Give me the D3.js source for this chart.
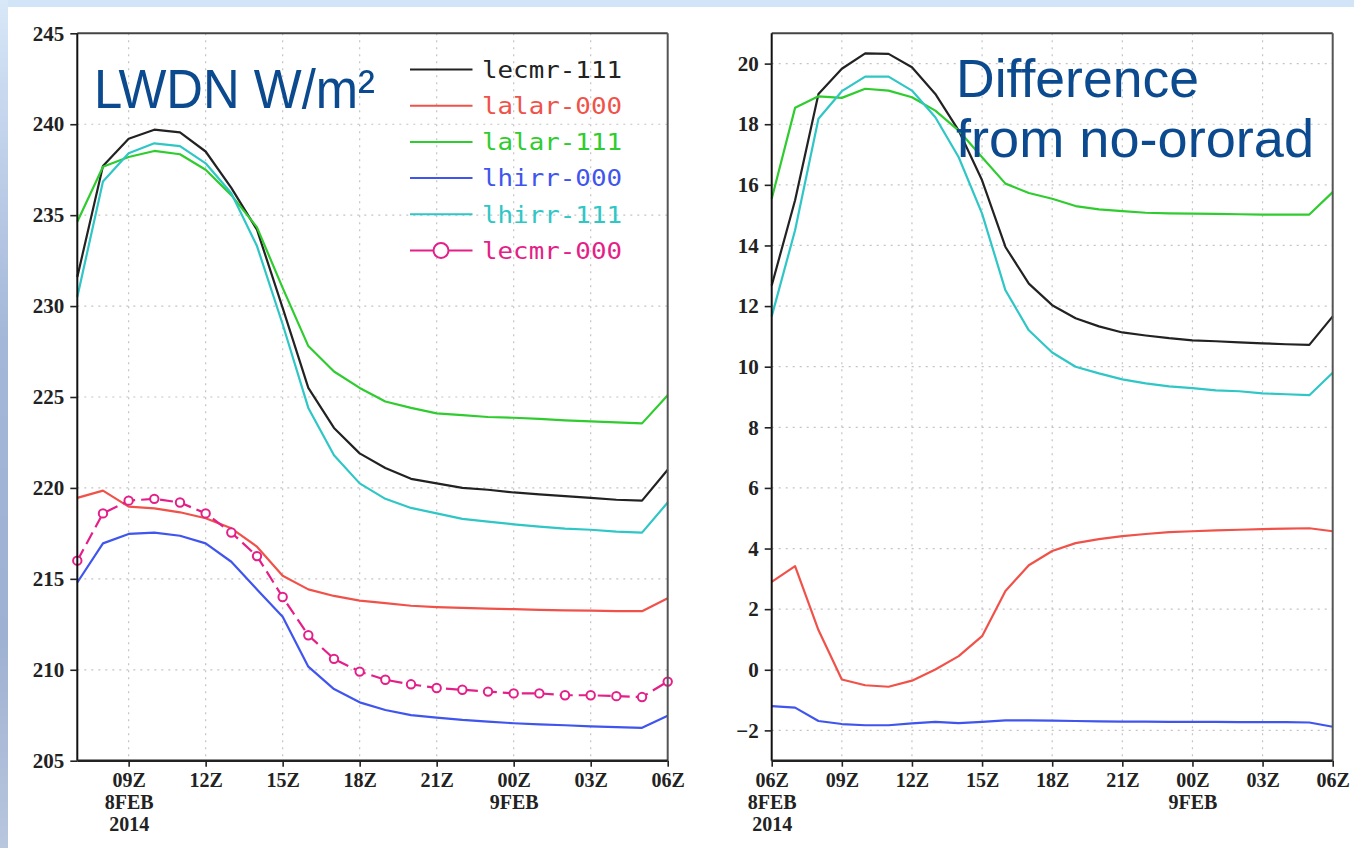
<!DOCTYPE html>
<html><head><meta charset="utf-8">
<script src="https://cdn.jsdelivr.net/npm/d3@7"></script>
<style>
html,body{margin:0;padding:0;background:#fff;}
svg{display:block;}
</style></head>
<body>
<svg id="chart" width="1354" height="848"></svg>
<script>
// ---------------- DATA ----------------
// Left panel: LWDN (W/m2), hourly 2014-02-08 07Z .. 2014-02-09 06Z (24 values)
const leftStart = "2014-02-08T07:00:00Z";
const leftEnd   = "2014-02-09T06:00:00Z";
const lecmr111 = [231.6,237.7,239.2,239.7,239.55,238.5,236.5,234.2,229.9,225.5,223.3,221.9,221.1,220.5,220.25,220.0,219.9,219.75,219.65,219.55,219.45,219.35,219.3,221.0];
const lalar000 = [219.45,219.85,218.97,218.88,218.66,218.33,217.78,216.77,215.17,214.42,214.06,213.8,213.66,213.52,213.45,213.4,213.36,213.33,213.29,213.27,213.25,213.23,213.22,213.93];
const lalar111 = [234.64,237.66,238.2,238.53,238.35,237.5,236.1,234.33,231.0,227.8,226.4,225.5,224.75,224.4,224.1,224.0,223.9,223.86,223.8,223.72,223.66,223.6,223.55,225.1];
const lhirr000 = [214.8,216.95,217.47,217.54,217.37,216.95,215.94,214.42,212.92,210.17,208.94,208.21,207.79,207.51,207.37,207.24,207.15,207.06,207.0,206.95,206.89,206.85,206.81,207.47];
const lhirr111 = [230.5,236.85,238.4,238.95,238.8,237.85,236.2,233.3,229.0,224.4,221.8,220.25,219.4,218.9,218.6,218.3,218.15,218.0,217.87,217.76,217.7,217.6,217.54,219.2];
const lecmr000 = [216.0,218.6,219.3,219.4,219.2,218.6,217.55,216.25,214.0,211.9,210.6,209.9,209.45,209.2,209.0,208.9,208.8,208.7,208.7,208.6,208.6,208.55,208.5,209.35];

// Right panel: difference from no-ororad, hourly 2014-02-08 06Z .. 2014-02-09 06Z (25 values)
const rightStart = "2014-02-08T06:00:00Z";
const rightEnd   = "2014-02-09T06:00:00Z";
const dLecmr111 = [12.68,15.49,19.0,19.83,20.34,20.32,19.88,19.0,17.79,16.15,13.95,12.74,12.03,11.6,11.33,11.13,11.03,10.94,10.87,10.84,10.8,10.77,10.74,10.72,11.66];
const dLalar000 = [2.9,3.42,1.31,-0.32,-0.51,-0.56,-0.36,0.01,0.45,1.11,2.6,3.45,3.92,4.18,4.31,4.41,4.48,4.54,4.57,4.6,4.62,4.64,4.66,4.67,4.57];
const dLalar111 = [15.54,18.54,18.92,18.87,19.17,19.11,18.89,18.45,17.79,16.91,16.04,15.73,15.54,15.3,15.19,15.13,15.08,15.06,15.05,15.04,15.03,15.02,15.02,15.02,15.76];
const dLhirr000 = [-1.2,-1.25,-1.69,-1.79,-1.83,-1.83,-1.77,-1.72,-1.76,-1.72,-1.67,-1.67,-1.68,-1.69,-1.7,-1.71,-1.71,-1.72,-1.72,-1.72,-1.73,-1.73,-1.73,-1.74,-1.88];
const dLhirr111 = [11.66,14.5,18.18,19.09,19.57,19.57,19.11,18.23,16.91,15.05,12.52,11.2,10.47,10.0,9.78,9.58,9.45,9.35,9.29,9.22,9.19,9.12,9.09,9.06,9.8];

const seriesNames  = ["lecmr-111","lalar-000","lalar-111","lhirr-000","lhirr-111","lecmr-000"];
const seriesColors = ["#222222","#f0524a","#2fcc2f","#3f55ee","#2fc6c6","#e41f88"];

const leftYTicks  = [205,210,215,220,225,230,235,240,245];
const rightYTicks = [-2,0,2,4,6,8,10,12,14,16,18,20];
const xTickTimes  = ["2014-02-08T06:00:00Z","2014-02-08T09:00:00Z","2014-02-08T12:00:00Z","2014-02-08T15:00:00Z","2014-02-08T18:00:00Z","2014-02-08T21:00:00Z","2014-02-09T00:00:00Z","2014-02-09T03:00:00Z","2014-02-09T06:00:00Z"];
const xTickLabels = ["06Z","09Z","12Z","15Z","18Z","21Z","00Z","03Z","06Z"];
const dateLabels  = [{t:"2014-02-08T09:00:00Z", lines:["8FEB","2014"], panel:"left"},
                     {t:"2014-02-09T00:00:00Z", lines:["9FEB"], panel:"left"},
                     {t:"2014-02-08T06:00:00Z", lines:["8FEB","2014"], panel:"right"},
                     {t:"2014-02-09T00:00:00Z", lines:["9FEB"], panel:"right"}];

// ---------------- DRAW ----------------
const svg = d3.select("#chart");
const W = 1354, H = 848;

// background decoration
const defs = svg.append("defs");
const lg = defs.append("linearGradient").attr("id","sideGrad").attr("x1",0).attr("y1",0).attr("x2",0).attr("y2",1);
lg.append("stop").attr("offset","0%").attr("stop-color","#d9e8f8");
lg.append("stop").attr("offset","10%").attr("stop-color","#c9daf0");
lg.append("stop").attr("offset","40%").attr("stop-color","#a4b7d8");
lg.append("stop").attr("offset","75%").attr("stop-color","#9fb1d2");
lg.append("stop").attr("offset","100%").attr("stop-color","#b8c6de");
svg.append("rect").attr("x",0).attr("y",0).attr("width",W).attr("height",H).attr("fill","#ffffff");
svg.append("rect").attr("x",0).attr("y",0).attr("width",W).attr("height",7).attr("fill","#d2e4f8");
svg.append("rect").attr("x",0).attr("y",0).attr("width",8).attr("height",H).attr("fill","url(#sideGrad)");

const parse = d3.isoParse;
const AXIS_FONT = "'Liberation Serif', 'DejaVu Serif', serif";

function panel(cfg){
  const x = d3.scaleUtc().domain([parse(cfg.start), parse(cfg.end)]).range([cfg.x0, cfg.x1]);
  const y = d3.scaleLinear().domain(cfg.ydomain).range([cfg.y0, cfg.y1]);
  const times = d3.utcHour.range(parse(cfg.start), d3.utcHour.offset(parse(cfg.end),1));
  const g = svg.append("g");

  // grid
  g.selectAll(".hg").data(cfg.gridY).join("line")
    .attr("x1",cfg.x0).attr("x2",cfg.x1).attr("y1",d=>y(d)).attr("y2",d=>y(d))
    .attr("stroke","#c4c4c4").attr("stroke-width",1.2).attr("stroke-dasharray","2,5");
  const vt = xTickTimes.map(parse).filter(t=> t>x.domain()[0] && t<x.domain()[1]);
  g.selectAll(".vg").data(vt).join("line")
    .attr("x1",d=>x(d)).attr("x2",d=>x(d)).attr("y1",cfg.y1).attr("y2",cfg.y0)
    .attr("stroke","#c4c4c4").attr("stroke-width",1.2).attr("stroke-dasharray","2,5");

  // lines
  const line = d3.line().x((d,i)=>x(times[i])).y(d=>y(d));
  cfg.series.forEach((s,k)=>{
    g.append("path").datum(s.values).attr("d",line)
      .attr("fill","none").attr("stroke",s.color).attr("stroke-width",2.2)
      .attr("stroke-linejoin","round")
      .attr("stroke-dasharray", s.marker ? "13,6" : null);
    if(s.marker){
      g.selectAll(null).data(s.values).join("circle")
        .attr("cx",(d,i)=>x(times[i])).attr("cy",d=>y(d)).attr("r",4.2)
        .attr("fill","#fff").attr("stroke",s.color).attr("stroke-width",2);
    }
  });

  // frame
  g.append("line").attr("x1",cfg.x0).attr("x2",cfg.x1).attr("y1",cfg.y1).attr("y2",cfg.y1).attr("stroke","#444").attr("stroke-width",2);
  g.append("line").attr("x1",cfg.x1).attr("x2",cfg.x1).attr("y1",cfg.y1).attr("y2",cfg.y0).attr("stroke","#555").attr("stroke-width",2);

  // y axis
  const ya = g.append("g").attr("transform",`translate(${cfg.x0},0)`)
    .call(d3.axisLeft(y).tickValues(cfg.yticks).tickSize(7).tickPadding(6).tickFormat(d3.format("d")));
  ya.select(".domain").attr("stroke","#111").attr("stroke-width",2).attr("d",`M0,${cfg.y0}V${cfg.y1}`);
  ya.selectAll(".tick line").attr("stroke","#222").attr("stroke-width",1.6);
  ya.selectAll("text").attr("font-family",AXIS_FONT).attr("font-weight","bold").attr("font-size",21).attr("fill","#222");

  // x axis (date lines added as tspans of the tick label)
  const xt = xTickTimes.map(parse).filter(t=> t>=x.domain()[0] && t<=x.domain()[1]);
  const lab = new Map(xTickTimes.map((t,i)=>[+parse(t), xTickLabels[i]]));
  const xa = g.append("g").attr("transform",`translate(0,${cfg.y0})`)
    .call(d3.axisBottom(x).tickValues(xt).tickSize(6).tickPadding(6).tickFormat(d=>lab.get(+d)));
  xa.select(".domain").attr("stroke","#222").attr("stroke-width",2.4).attr("d",`M${cfg.x0},0H${cfg.x1}`);
  xa.selectAll(".tick line").attr("stroke","#222").attr("stroke-width",1.6);
  xa.selectAll("text").attr("font-family",AXIS_FONT).attr("font-weight","bold").attr("font-size",20).attr("fill","#222");
  const dl = dateLabels.filter(d=>d.panel===cfg.name);
  xa.selectAll(".tick text").each(function(t){
    const m = dl.find(d=> +parse(d.t) === +t);
    if(!m) return;
    const txt = d3.select(this);
    const first = txt.text();
    txt.text(null);
    txt.append("tspan").attr("x",0).text(first);
    m.lines.forEach((ln,j)=>{
      txt.append("tspan").attr("x",0).attr("dy", 22.3).text(ln);
    });
  });
  return {x,y,g};
}

panel({name:"left", start:leftStart, end:leftEnd, x0:77.3, x1:667.7, y0:760.7, y1:33.3,
  ydomain:[205,245], yticks:leftYTicks, gridY:[210,215,220,225,230,235,240],
  series:[
    {values:lecmr111, color:seriesColors[0]},
    {values:lalar000, color:seriesColors[1]},
    {values:lalar111, color:seriesColors[2]},
    {values:lhirr000, color:seriesColors[3]},
    {values:lhirr111, color:seriesColors[4]},
    {values:lecmr000, color:seriesColors[5], marker:true}
  ]});

panel({name:"right", start:rightStart, end:rightEnd, x0:771.7, x1:1332.7, y0:760.7, y1:33.3,
  ydomain:[-3,21], yticks:rightYTicks, gridY:rightYTicks,
  series:[
    {values:dLecmr111, color:seriesColors[0]},
    {values:dLalar000, color:seriesColors[1]},
    {values:dLalar111, color:seriesColors[2]},
    {values:dLhirr000, color:seriesColors[3]},
    {values:dLhirr111, color:seriesColors[4]}
  ]});

// legend
const legend = svg.append("g");
const rowY = d3.scaleLinear().domain([0,5]).range([69.5,250.5]);
seriesNames.forEach((name,i)=>{
  const yy = rowY(i);
  legend.append("line").attr("x1",410).attr("x2",472.5).attr("y1",yy).attr("y2",yy)
    .attr("stroke",seriesColors[i]).attr("stroke-width",2);
  if(i===5){
    legend.append("circle").attr("cx",441).attr("cy",yy).attr("r",7.5)
      .attr("fill","#fff").attr("stroke",seriesColors[i]).attr("stroke-width",2);
  }
  legend.append("text").attr("x",482).attr("y",yy).attr("dy","0.36em")
    .attr("font-family","'DejaVu Sans Mono', monospace").attr("font-size",23)
    .attr("textLength",140).attr("lengthAdjust","spacingAndGlyphs")
    .attr("fill",seriesColors[i]).text(name);
});

// titles
const TITLE_FONT = "'Liberation Sans','Arial',sans-serif";
const TCOL = "#0b4a8e";
svg.append("text").attr("font-family",TITLE_FONT).attr("fill",TCOL)
  .attr("x",94).attr("y",108.3).attr("font-size",55)
  .attr("textLength",281).attr("lengthAdjust","spacingAndGlyphs").text("LWDN W/m\u00B2");
const t2 = svg.append("text").attr("font-family",TITLE_FONT).attr("fill",TCOL).attr("font-size",53);
t2.append("tspan").attr("x",956).attr("y",97.3)
  .attr("textLength",243).attr("lengthAdjust","spacingAndGlyphs").text("Difference");
t2.append("tspan").attr("x",956).attr("y",156.7)
  .attr("textLength",358).attr("lengthAdjust","spacingAndGlyphs").text("from no-ororad");
</script>
</body></html>
